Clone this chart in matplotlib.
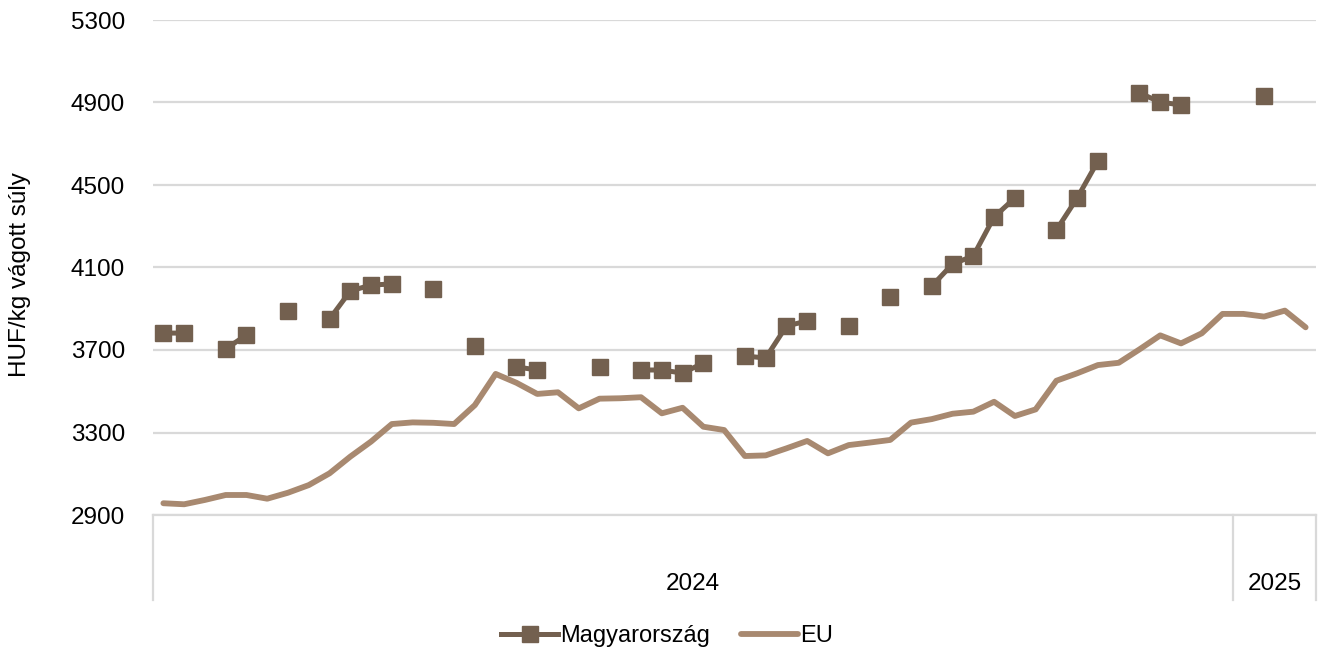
import numpy as np
import matplotlib.pyplot as plt
import matplotlib.transforms as mtransforms

# weekly prices, 2024 week 1 .. 2025 week 4 (56 weeks)
years = ["2024", "2025"]
weeks_per_year = [52, 4]

nan = np.nan
hu = [3782, 3782, nan, 3705, 3773, nan, 3889, nan, 3850, 3986,
      4015, 4020, nan, 3996, nan, 3719, nan, 3618, 3603, nan,
      nan, 3618, nan, 3603, 3603, 3588, 3637, nan, 3671, 3661,
      3816, 3841, nan, 3816, nan, 3957, nan, 4010, 4117, 4156,
      4345, 4437, nan, 4282, 4437, 4616, nan, 4946, 4902, 4888,
      nan, nan, nan, 4932, nan, nan]
eu = [2957, 2952, 2973, 2997, 2997, 2979, 3008, 3045, 3102, 3183,
      3256, 3341, 3349, 3347, 3341, 3433, 3584, 3541, 3487, 3495,
      3417, 3464, 3466, 3471, 3393, 3420, 3328, 3312, 3186, 3189,
      3223, 3259, 3199, 3239, 3251, 3264, 3348, 3365, 3391, 3401,
      3449, 3380, 3412, 3551, 3587, 3627, 3638, 3703, 3771, 3732,
      3781, 3875, 3875, 3862, 3891, 3810]

hu_color = "#73604F"
eu_color = "#A88970"
grid_color = "#D9D9D9"

plt.rcParams["font.family"] = ["Liberation Sans", "DejaVu Sans"]

x = np.arange(len(eu))

fig = plt.figure(figsize=(13.2, 6.55), dpi=100, facecolor="white")
ax = fig.add_axes([153 / 1320, 1 - 515 / 655, 1163 / 1320, 495 / 655])

ax.plot(x, hu, color=hu_color, linewidth=3.6, marker="s", markersize=11,
        label="Magyarország", zorder=3)
ax.plot(x, eu, color=eu_color, linewidth=4.2, solid_capstyle="round",
        label="EU", zorder=2)

ax.set_xlim(-0.5, len(eu) - 0.5)
ax.set_ylim(2900, 5300)
ax.set_yticks(np.arange(2900, 5301, 400))
ax.set_xticks([])
ax.tick_params(axis="y", length=0, pad=20, labelsize=17.5)
ax.grid(axis="y", color=grid_color, linewidth=1.6)
ax.set_axisbelow(True)
for s in ax.spines.values():
    s.set_visible(False)

# two-level category axis: year boxes
trans = mtransforms.blended_transform_factory(ax.transData, ax.transAxes)
y_bot = (515 - 600) / 495
y_lab = (515 - 584) / 495
edges = np.concatenate([[0], np.cumsum(weeks_per_year)]) - 0.5
for e in edges:
    ax.plot([e, e], [0, y_bot], color=grid_color, linewidth=1.6,
            transform=trans, clip_on=False)
ax.plot([edges[0], edges[-1]], [0, 0], color=grid_color, linewidth=1.6,
        transform=trans, clip_on=False)
for i, yr in enumerate(years):
    ax.text((edges[i] + edges[i + 1]) / 2, y_lab, yr, transform=trans,
            ha="center", va="center", fontsize=17.5)

fig.text(20 / 1320, 1 - 275 / 655, "HUF/kg vágott súly", rotation=90,
         ha="center", va="center", fontsize=17.5)

fig.legend(loc="center", bbox_to_anchor=(667 / 1320, 1 - 636 / 655),
           ncol=2, frameon=False, fontsize=17, handlelength=2.4,
           columnspacing=1.3, handletextpad=0.1)

plt.savefig("out.png", dpi=100, facecolor="white")
plt.close()
